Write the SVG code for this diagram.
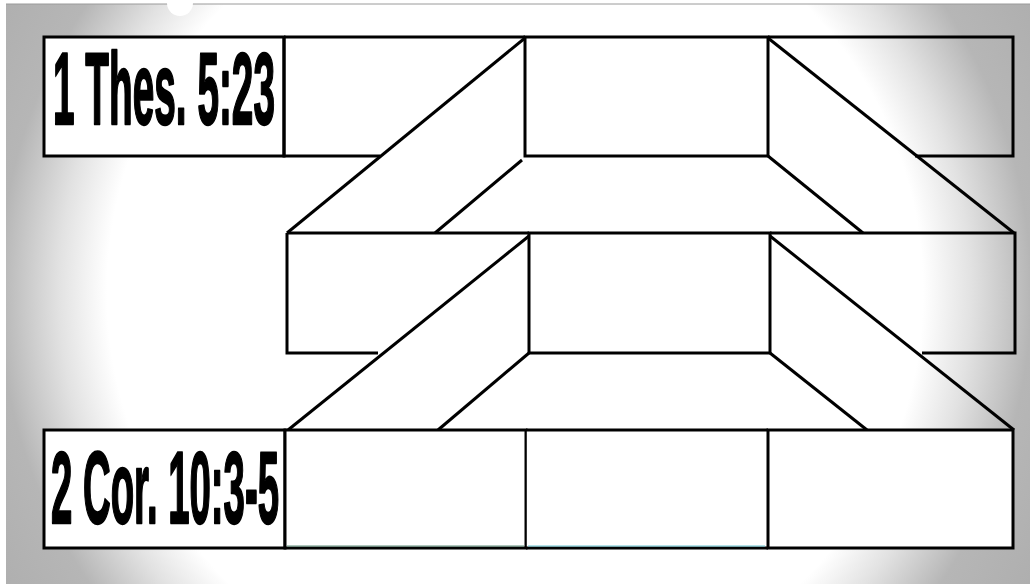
<svg xmlns="http://www.w3.org/2000/svg" width="1030" height="584" viewBox="0 0 1030 584">
<defs>
<radialGradient id="bg" gradientUnits="userSpaceOnUse" cx="515" cy="292" r="600">
<stop offset="0" stop-color="#ffffff"/>
<stop offset="0.68" stop-color="#ffffff"/>
<stop offset="0.76" stop-color="#e2e2e2"/>
<stop offset="0.86" stop-color="#b6b6b6"/>
<stop offset="1" stop-color="#aeaeae"/>
</radialGradient>
<style>
.box{fill:#ffffff;stroke:#000000;stroke-width:3;stroke-linejoin:miter}
.thin{fill:none;stroke:#000000;stroke-width:1.6}
.ln{fill:none;stroke:#000000;stroke-width:3;stroke-linecap:butt}
.lbl{font-family:"Liberation Sans",Arial,sans-serif;font-weight:bold;font-size:102px;fill:#000000;stroke:#000000;stroke-width:2.4;stroke-linejoin:round}
</style>
</defs>
<rect x="0" y="0" width="1030" height="584" fill="#ffffff"/>
<rect x="6" y="4" width="1024" height="580" fill="url(#bg)"/>
<line x1="6" y1="4" x2="1030" y2="4" stroke="#9a9a9a" stroke-width="1"/>
<circle cx="180" cy="3" r="13" fill="#ffffff"/>

<g id="connectors">
<line class="ln" x1="525" y1="38" x2="287" y2="233"/>
<line class="ln" x1="522" y1="160" x2="435" y2="233"/>
<line class="ln" x1="768" y1="38" x2="1014" y2="233"/>
<line class="ln" x1="768" y1="156" x2="863" y2="233"/>
<line class="ln" x1="529" y1="236" x2="288" y2="430"/>
<line class="ln" x1="529" y1="353" x2="438" y2="430"/>
<line class="ln" x1="770" y1="236" x2="1014" y2="430"/>
<line class="ln" x1="770" y1="353" x2="867" y2="430"/>
</g>

<g id="row1-label">
<rect class="box" x="44" y="37" width="240" height="119"/>
<text class="lbl" x="53" y="124" textLength="222" lengthAdjust="spacingAndGlyphs">1 Thes. 5:23</text>
</g>
<g id="row1-box2">
<path class="ln" d="M284 37 H525 M284 37 V156 H380"/>
</g>
<g id="row1-box3">
<rect class="box" x="525" y="37" width="243" height="119"/>
</g>
<g id="row1-box4">
<path class="ln" d="M768 37 H1013 V156 H915"/>
</g>

<g id="row2-box1">
<path class="ln" d="M287 233 H529 M287 233 V353 H378"/>
</g>
<g id="row2-box2">
<rect class="box" x="529" y="233" width="241" height="120"/>
</g>
<g id="row2-box3">
<path class="ln" d="M770 233 H1015 V353 H922"/>
</g>

<g id="row3-label">
<rect class="box" x="44" y="430" width="241" height="118"/>
<text class="lbl" x="51" y="523" textLength="228" lengthAdjust="spacingAndGlyphs">2 Cor. 10:3-5</text>
</g>
<g id="row3-box2">
<rect class="box" x="285" y="430" width="241" height="118"/>
<line x1="287" y1="546" x2="524" y2="546" stroke="#5f8f7a" stroke-width="1"/>
</g>
<g id="row3-box3">
<rect x="526" y="430" width="242" height="118" fill="#ffffff" stroke="none"/>
<path class="ln" d="M526 430 H768 M526 548 H768"/>
<line class="thin" x1="526" y1="430" x2="526" y2="548"/>
<line x1="528" y1="546" x2="765" y2="546" stroke="#6cc7d4" stroke-width="1.2"/>
</g>
<g id="row3-box4">
<rect class="box" x="768" y="430" width="245" height="118"/>
</g>
</svg>
